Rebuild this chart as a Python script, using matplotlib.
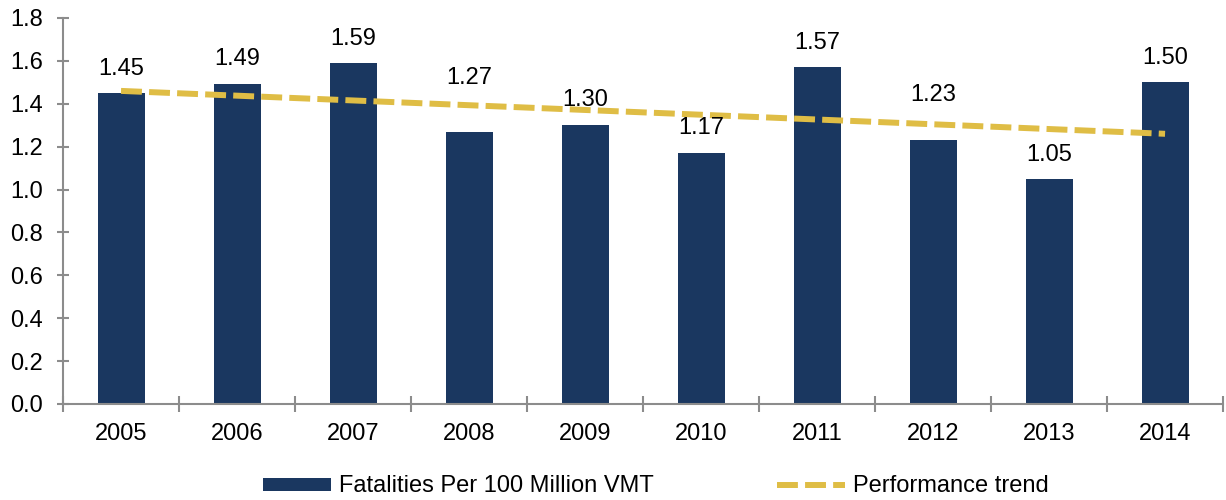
import matplotlib.pyplot as plt
from matplotlib.patches import Patch
from matplotlib.lines import Line2D
import numpy as np

plt.rcParams['font.family'] = ['Liberation Sans', 'DejaVu Sans']

years = ['2005', '2006', '2007', '2008', '2009', '2010', '2011', '2012', '2013', '2014']
fatalities = [1.45, 1.49, 1.59, 1.27, 1.30, 1.17, 1.57, 1.23, 1.05, 1.50]
trend_ends = [1.46, 1.26]  # linear trend, read at 2005 and 2014

# how far each value label sits above its bar (pixels)
label_lift_px = [24, 25, 24, 54, 25, 25, 24, 45, 24, 24]

bar_color = '#1a3760'
trend_color = '#dfbd45'
axis_color = '#8c8c8c'

fig = plt.figure(figsize=(12.26, 5.0), dpi=100)
ax = fig.add_axes([0.0514, 0.192, 0.9462, 0.772])

x = np.arange(len(years))
ax.bar(x, fatalities, width=0.405, color=bar_color, zorder=2)
ax.plot([x[0], x[-1]], trend_ends, color=trend_color, lw=4.3,
        dashes=(3.5, 1.2), dash_capstyle='butt', zorder=3)

for xi, v, lift in zip(x, fatalities, label_lift_px):
    ax.annotate(f'{v:.2f}', (xi, v), xytext=(0, lift * 0.72), textcoords='offset points',
                ha='center', va='center', fontsize=17, color='black', zorder=4)

ax.set_xlim(-0.5, len(years) - 0.5)
ax.set_ylim(0, 1.8)
yt = np.arange(0, 1.81, 0.2)
ax.set_yticks(yt)
ax.set_yticklabels([f'{t:.1f}' for t in yt])
ax.set_xticks(x)
ax.set_xticklabels(years)
ax.set_xticks(np.arange(-0.5, len(years)), minor=True)

for s in ['top', 'right']:
    ax.spines[s].set_visible(False)
for s in ['left', 'bottom']:
    ax.spines[s].set_color(axis_color)
    ax.spines[s].set_linewidth(1.5)

ax.tick_params(axis='y', direction='inout', length=9, width=1.5, color=axis_color,
               labelsize=17, pad=10)
ax.tick_params(axis='x', which='major', length=0, labelsize=17, pad=14)
ax.tick_params(axis='x', which='minor', direction='inout', length=11, width=1.5,
               color=axis_color)

handles = [Patch(facecolor=bar_color, edgecolor='none'),
           Line2D([0], [0], color=trend_color, lw=4.3, dashes=(3.5, 1.2),
                  dash_capstyle='butt')]
fig.legend(handles, ['Fatalities Per 100 Million VMT', 'Performance trend'],
           loc='center', bbox_to_anchor=(0.535, 0.027), ncol=2, frameon=False,
           fontsize=17, handlelength=2.9, handleheight=0.47, handletextpad=0.34,
           columnspacing=5.2, borderpad=0, borderaxespad=0)

fig.savefig('out.png', dpi=100)
